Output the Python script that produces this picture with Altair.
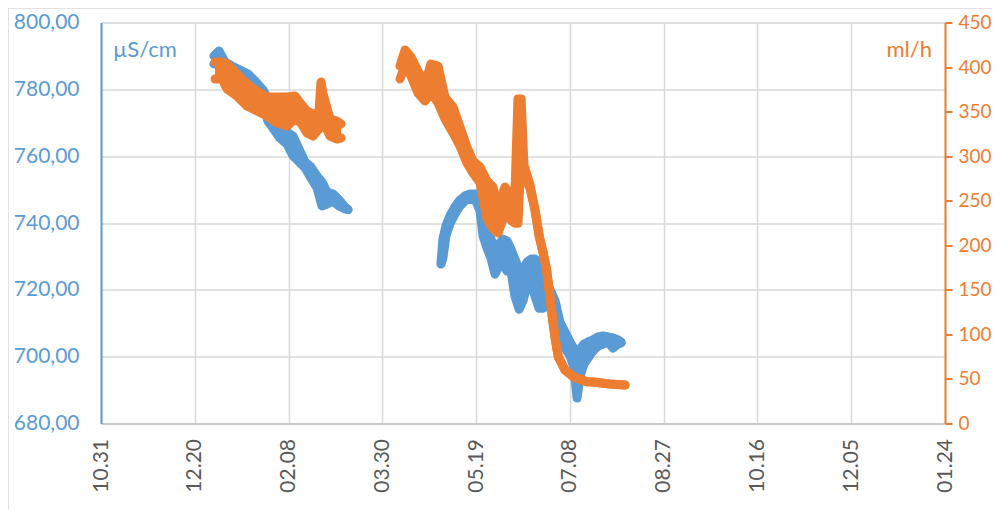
import altair as alt
import pandas as pd

BLUE = "#5B9BD5"
ORANGE = "#ED7D31"
FONT = "Lato"

# x axis: days since the first tick, ticks every 50 days
X_TICK_DAYS = [0, 50, 100, 150, 200, 250, 300, 350, 400, 450]
X_TICK_LABELS = ["10.31", "12.20", "02.08", "03.30", "05.19", "07.08", "08.27", "10.16", "12.05", "01.24"]
LEFT_TICKS = [680, 700, 720, 740, 760, 780, 800]
RIGHT_TICKS = [0, 50, 100, 150, 200, 250, 300, 350, 400, 450]

# conductivity (µS/cm), first run: day, lower and upper edge of the point cloud
B1_DAY = [60.2, 62.9, 66.1, 69.8, 74.1, 78.4, 82.6, 86.4, 89.0, 91.7, 95.4, 99.2, 102.4,
          105.6, 108.8, 112.0, 115.2, 117.8, 120.5, 123.7, 126.9, 130.1, 131.7]
B1_LO = [787.6, 788.5, 786.4, 784.6, 782.8, 781.6, 779.2, 775.6, 770.5, 768.4, 765.4, 763.6, 760.1,
         758.3, 756.5, 753.4, 750.5, 745.1, 745.7, 746.6, 745.1, 744.2, 744.0]
B1_HI = [790.0, 791.5, 788.2, 787.0, 785.8, 784.6, 782.2, 779.8, 777.1, 772.6, 769.0, 767.2, 766.0,
         762.1, 758.3, 756.7, 754.0, 752.3, 749.3, 748.7, 746.9, 744.8, 744.0]

# conductivity, second run
B2_DAY = [181.3, 182.3, 183.9, 186.0, 188.7, 191.4, 194.1, 196.7, 199.9, 202.1, 203.7, 205.8, 207.9,
          210.1, 212.2, 214.3, 216.5, 218.6, 220.7, 222.9, 225.0, 227.1, 229.3, 231.4, 233.5, 235.7,
          237.8, 240.0, 242.1, 244.7, 247.4, 250.1, 252.2, 253.8, 255.4, 257.5, 259.7, 262.3, 265.0,
          267.7, 270.3, 273.0, 275.7, 277.3]
B2_LO = [727.7, 729.5, 736.1, 739.7, 742.7, 745.1, 746.6, 747.2, 746.6, 743.6, 736.1, 732.5, 729.5,
         724.7, 727.1, 727.7, 725.6, 725.6, 718.1, 714.2, 716.7, 721.1, 721.7, 718.1, 714.5, 714.5,
         715.2, 714.5, 712.8, 705.3, 702.6, 700.2, 696.6, 687.6, 694.2, 697.8, 699.6, 701.7, 703.2,
         703.8, 704.4, 702.6, 703.8, 704.1]
B2_HI = [728.3, 735.2, 739.1, 742.1, 744.8, 746.9, 748.1, 748.7, 748.7, 747.2, 744.2, 739.7, 735.2,
         732.2, 733.7, 735.2, 734.6, 732.2, 729.2, 726.2, 725.3, 728.3, 729.2, 729.2, 728.3, 725.3,
         721.8, 719.4, 716.7, 710.4, 707.4, 704.4, 702.3, 699.3, 702.3, 703.8, 704.4, 705.0, 705.9,
         706.2, 705.9, 705.6, 705.0, 704.4]

# flow (ml/h), first run
O1_DAY = [60.8, 64.5, 67.2, 72.5, 77.8, 83.2, 88.5, 93.8, 99.2, 103.4, 106.6, 109.8, 113.0,
          116.2, 117.3, 118.4, 122.1, 125.8, 128.0]
O1_LO = [386.6, 386.6, 375.4, 367.5, 356.3, 350.7, 345.1, 337.2, 333.8, 341.7, 337.2, 326.0, 322.6,
         330.5, 345.1, 339.5, 322.6, 319.2, 320.4]
O1_HI = [405.7, 405.7, 403.4, 392.2, 381.0, 373.1, 366.4, 366.4, 366.4, 367.5, 358.5, 350.7, 347.3,
         349.6, 383.2, 369.8, 341.7, 339.4, 336.1]

# flow, second run
O2_DAY = [159.4, 162.1, 165.3, 169.0, 172.7, 175.9, 179.7, 183.4, 187.7, 191.4, 195.1, 198.3, 202.1,
          205.8, 209.0, 211.7, 215.4, 218.1, 220.7, 222.3, 224.0, 225.5, 228.7, 231.4, 233.7, 235.8,
          237.6, 239.4, 240.6, 242.0, 243.8, 247.4, 251.8, 259.0, 262.3, 271.4, 279.4]
O2_LO = [386.6, 401.5, 390.0, 370.9, 361.9, 370.9, 359.7, 341.7, 326.0, 311.4, 292.3, 281.1, 269.9,
         229.5, 218.3, 213.8, 236.2, 229.2, 224.8, 224.8, 300.2, 280.0, 264.0, 239.6, 209.6, 191.0,
         172.3, 142.3, 119.9, 97.4, 75.0, 60.0, 52.5, 46.9, 46.6, 44.3, 43.2]
O2_HI = [401.2, 419.1, 411.3, 395.5, 381.0, 403.4, 401.2, 366.4, 355.2, 332.7, 310.2, 294.5, 287.8,
         272.1, 265.4, 242.9, 265.4, 257.5, 257.5, 364.1, 364.1, 290.0, 268.0, 239.6, 209.6, 191.0,
         172.3, 142.3, 119.9, 97.4, 75.0, 60.0, 52.5, 46.9, 46.6, 44.3, 43.2]


def band(days, lo, hi, seg):
    return pd.DataFrame({"day": days, "lo": lo, "hi": hi, "seg": seg})


blue_df = pd.concat([band(B1_DAY, B1_LO, B1_HI, "a"), band(B2_DAY, B2_LO, B2_HI, "b")])
orange_df = pd.concat([band(O1_DAY, O1_LO, O1_HI, "a"), band(O2_DAY, O2_LO, O2_HI, "b")])

label_expr = "[" + ",".join("'%s'" % s for s in X_TICK_LABELS) + "][round(datum.value / 50)]"

x_axis = alt.Axis(values=X_TICK_DAYS, labelExpr=label_expr, grid=True, gridColor="#d9d9d9",
                  gridWidth=1.5, domainColor="#bfbfbf", domainWidth=1.5, ticks=False,
                  labelAngle=270, labelColor="#595959", labelFont=FONT, labelFontSize=21,
                  labelPadding=15, title=None, labelOverlap=False)
x_scale = alt.Scale(domain=[0, 450], nice=False, zero=False)

yb_scale = alt.Scale(domain=[680, 800], nice=False, zero=False)
yb_axis = alt.Axis(orient="left", values=LEFT_TICKS,
                   labelExpr="replace(format(datum.value, '.2f'), '.', ',')",
                   grid=True, gridColor="#d9d9d9", gridWidth=1.5, domainColor=BLUE, domainWidth=2,
                   ticks=False, labelColor=BLUE, labelFont=FONT, labelFontSize=21, labelPadding=22,
                   title=None)

yo_scale = alt.Scale(domain=[0, 450], nice=False, zero=False)
yo_axis = alt.Axis(orient="right", values=RIGHT_TICKS, grid=False, domainColor=ORANGE, domainWidth=2,
                   ticks=True, tickColor=ORANGE, tickWidth=2, tickSize=7, labelColor=ORANGE,
                   labelFont=FONT, labelFontSize=19, labelPadding=6, title=None)


def series(df, color, scale, axis):
    base = alt.Chart(df)
    x = alt.X("day:Q", scale=x_scale, axis=x_axis)
    area = base.mark_area(color=color, opacity=1).encode(
        x=x, y=alt.Y("lo:Q", scale=scale, axis=axis), y2="hi:Q", detail="seg:N")
    lo = base.mark_line(color=color, strokeWidth=9, strokeCap="round", strokeJoin="round").encode(
        x=x, y=alt.Y("lo:Q", scale=scale, axis=axis), detail="seg:N")
    hi = base.mark_line(color=color, strokeWidth=9, strokeCap="round", strokeJoin="round").encode(
        x=x, y=alt.Y("hi:Q", scale=scale, axis=axis), detail="seg:N")
    return alt.layer(area, lo, hi)


blue_layer = series(blue_df, BLUE, yb_scale, yb_axis)
orange_layer = series(orange_df, ORANGE, yo_scale, yo_axis)

border = alt.Chart(pd.DataFrame({"k": [0]})).mark_rule(color="#d9d9d9", strokeWidth=1.5).encode(
    x=alt.value(-93), y=alt.value(-14.5), y2=alt.value(600))
border_top = alt.Chart(pd.DataFrame({"k": [0]})).mark_rule(color="#d9d9d9", strokeWidth=1.5).encode(
    x=alt.value(-93), x2=alt.value(1000), y=alt.value(-14.5))

unit_left = alt.Chart(pd.DataFrame({"t": ["µS/cm"]})).mark_text(
    color=BLUE, font=FONT, fontSize=22, align="left", baseline="alphabetic").encode(
    text="t:N", x=alt.value(12), y=alt.value(34.5))
unit_right = alt.Chart(pd.DataFrame({"t": ["ml/h"]})).mark_text(
    color=ORANGE, font=FONT, fontSize=22, align="right", baseline="alphabetic").encode(
    text="t:N", x=alt.value(831), y=alt.value(34.5))

chart = alt.layer(border, border_top, blue_layer, orange_layer, unit_left, unit_right).resolve_scale(
    y="independent"
).properties(
    width=844, height=401,
    padding={"left": 93, "top": 14.5, "right": 47, "bottom": 86},
    autosize=alt.AutoSizeParams(type="none"),
    background="white",
).configure_view(stroke=None).configure(font=FONT)

chart.save("out.html", embed_options={"renderer": "svg", "actions": False})
